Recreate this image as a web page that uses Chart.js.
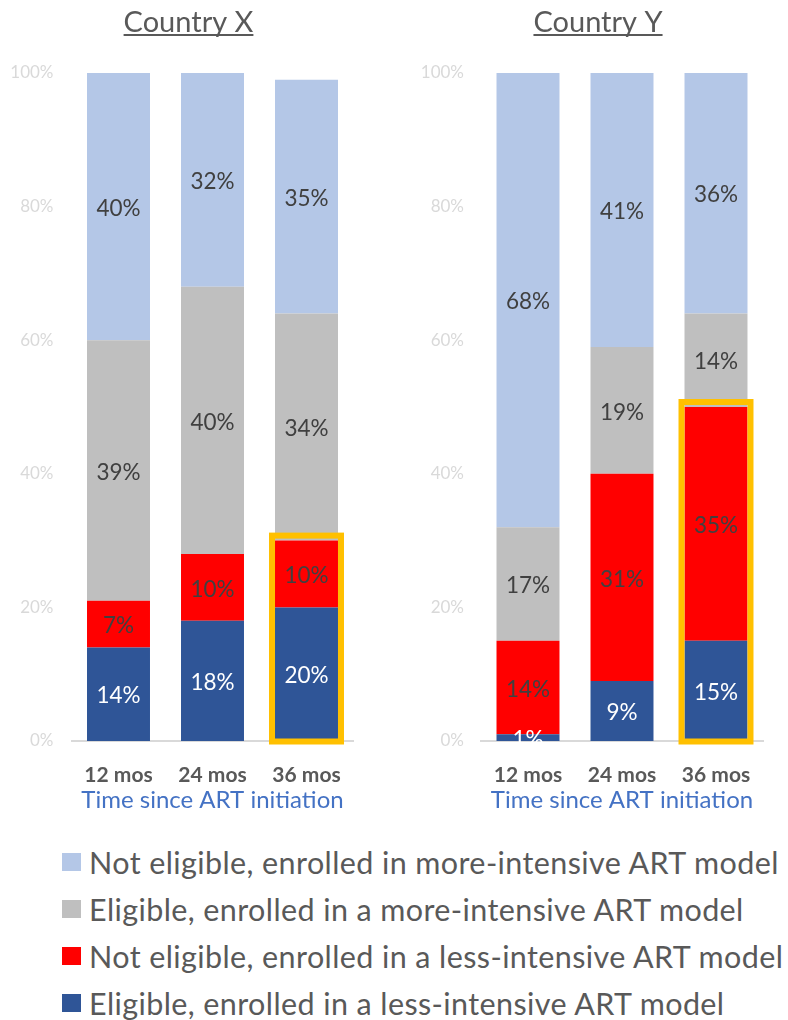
<!DOCTYPE html>
<html>
<head>
<meta charset="utf-8">
<script src="https://cdn.jsdelivr.net/npm/chart.js@4.4.0/dist/chart.umd.min.js"></script>
<style>
  html, body { margin: 0; padding: 0; background: #ffffff; }
  #wrap { position: relative; width: 788px; height: 1020px; overflow: hidden; font-family: Lato, "Open Sans", sans-serif; }
  .panel { position: absolute; top: 0; width: 394px; height: 820px; }
  #panelX { left: 0; }
  #panelY { left: 394px; }
  #legend { position: absolute; left: 62px; top: 838px; }
  .item { display: flex; align-items: center; height: 47px; font-size: 30.5px; letter-spacing: 0.4px; color: #595959; white-space: nowrap; }
  .swatch { width: 19px; height: 18px; margin-right: 8px; flex: none; }
</style>
</head>
<body>
<div id="wrap">
  <div class="panel" id="panelX"><canvas id="chartX" width="394" height="820"></canvas></div>
  <div class="panel" id="panelY"><canvas id="chartY" width="394" height="820"></canvas></div>
  <div id="legend"></div>
</div>
<script>
// Categories and axis ticks
const categories = ['12 mos', '24 mos', '36 mos'];
const yTickValues = [0, 20, 40, 60, 80, 100];
const axisTitle = 'Time since ART initiation';

// Series, listed bottom-of-stack first
const seriesNames = [
  'Eligible, enrolled in a less-intensive ART model',
  'Not eligible, enrolled in a less-intensive ART model',
  'Eligible, enrolled in a more-intensive ART model',
  'Not eligible, enrolled in more-intensive ART model'
];
const seriesColors = ['#2F5597', '#FF0000', '#BFBFBF', '#B4C7E7'];
const valueLabelColors = ['#FFFFFF', '#404040', '#404040', '#404040'];

// Country X (percent of patients)
const xEligibleLess    = [14, 18, 20];
const xNotEligibleLess = [7, 10, 10];
const xEligibleMore    = [39, 40, 34];
const xNotEligibleMore = [40, 32, 35];

// Country Y (percent of patients)
const yEligibleLess    = [1, 9, 15];
const yNotEligibleLess = [14, 31, 35];
const yEligibleMore    = [17, 19, 14];
const yNotEligibleMore = [68, 41, 36];

// Bar outlined in each panel
const highlightCategory = '36 mos';

Chart.defaults.font.family = 'Lato, "Open Sans", sans-serif';

// Underlined panel heading
const panelTitlePlugin = {
  id: 'panelTitle',
  afterDraw(chart, args, opts) {
    const { ctx, chartArea } = chart;
    ctx.save();
    ctx.font = '29px Lato, "Open Sans", sans-serif';
    ctx.fillStyle = '#595959';
    ctx.textAlign = 'center';
    ctx.textBaseline = 'alphabetic';
    const cx = (chartArea.left + chartArea.right) / 2 + opts.shift;
    ctx.fillText(opts.text, cx, 32);
    const w = ctx.measureText(opts.text).width;
    ctx.fillRect(cx - w / 2, 34, w, 2);
    ctx.restore();
  }
};

// Outline around the highlighted bar's less-intensive segments
const highlightPlugin = {
  id: 'highlightBox',
  afterDatasetsDraw(chart) {
    const idx = categories.indexOf(highlightCategory);
    if (idx < 0) return;
    const ds = chart.data.datasets;
    const top = ds[0].data[idx] + ds[1].data[idx];
    const yScale = chart.scales.y;
    const el = chart.getDatasetMeta(0).data[idx];
    const { x, width } = el.getProps(['x', 'width'], true);
    const yTop = yScale.getPixelForValue(top) - 5;
    const yBot = yScale.getPixelForValue(0) + 0.5;
    const ctx = chart.ctx;
    ctx.save();
    ctx.strokeStyle = '#FFC000';
    ctx.lineWidth = 6;
    ctx.strokeRect(x - width / 2 - 3, yTop, width + 6, yBot - yTop);
    ctx.restore();
  }
};

// Value labels centred in each segment
const valueLabelPlugin = {
  id: 'valueLabels',
  afterDatasetsDraw(chart) {
    const ctx = chart.ctx;
    ctx.save();
    ctx.font = '22.5px Lato, "Open Sans", sans-serif';
    ctx.textAlign = 'center';
    ctx.textBaseline = 'middle';
    chart.data.datasets.forEach((ds, di) => {
      const meta = chart.getDatasetMeta(di);
      meta.data.forEach((el, i) => {
        const v = ds.data[i];
        if (v == null) return;
        const { x, y, base } = el.getProps(['x', 'y', 'base'], true);
        ctx.fillStyle = valueLabelColors[di];
        ctx.fillText(v + '%', x, (y + base) / 2 + 2);
      });
    });
    ctx.restore();
  }
};

function makePanel(canvasId, title, series, axisWidth, rightPad, tickPad, titleShift) {
  return new Chart(document.getElementById(canvasId), {
    type: 'bar',
    data: {
      labels: categories,
      datasets: series.map((values, i) => ({
        label: seriesNames[i],
        data: values,
        backgroundColor: seriesColors[i],
        borderWidth: 0,
        categoryPercentage: 1,
        barPercentage: 0.67
      }))
    },
    options: {
      responsive: false,
      animation: false,
      devicePixelRatio: 1,
      layout: { padding: { top: 73, right: rightPad, bottom: 0, left: 0 } },
      plugins: {
        legend: { display: false },
        tooltip: { enabled: false },
        title: { display: false },
        panelTitle: { text: title, shift: titleShift }
      },
      scales: {
        x: {
          stacked: true,
          grid: { display: false, drawTicks: false },
          border: { display: true, color: '#D9D9D9', width: 2 },
          ticks: { color: '#595959', font: { size: 21, weight: 'bold' }, padding: 22 },
          title: { display: true, text: axisTitle, color: '#4472C4', font: { size: 24 }, padding: { top: 0, bottom: 5 } },
          afterFit(scale) { scale.height = 79; }
        },
        y: {
          stacked: true,
          min: 0,
          max: 100,
          afterBuildTicks(scale) { scale.ticks = yTickValues.map(v => ({ value: v })); },
          grid: { display: false, drawTicks: false },
          border: { display: false },
          ticks: { color: '#D9D9D9', font: { size: 17 }, padding: tickPad, callback: v => v + '%' },
          afterFit(scale) { scale.width = axisWidth; }
        }
      }
    },
    plugins: [panelTitlePlugin, highlightPlugin, valueLabelPlugin]
  });
}

makePanel('chartX', 'Country X', [xEligibleLess, xNotEligibleLess, xEligibleMore, xNotEligibleMore], 71.5, 40.5, 18, -24);
makePanel('chartY', 'Country Y', [yEligibleLess, yNotEligibleLess, yEligibleMore, yNotEligibleMore], 87, 25, 17, -24);

// Shared legend, top row is the top of the stack
const legend = document.getElementById('legend');
for (let i = seriesNames.length - 1; i >= 0; i--) {
  const row = document.createElement('div');
  row.className = 'item';
  const sw = document.createElement('span');
  sw.className = 'swatch';
  sw.style.background = seriesColors[i];
  const txt = document.createElement('span');
  txt.textContent = seriesNames[i];
  row.appendChild(sw);
  row.appendChild(txt);
  legend.appendChild(row);
}
</script>
</body>
</html>
